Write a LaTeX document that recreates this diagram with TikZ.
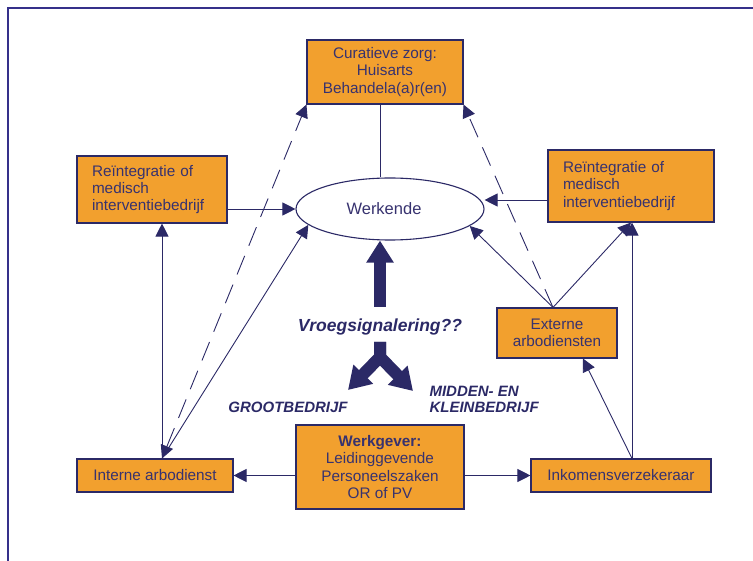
\documentclass[tikz,border=0pt]{standalone}
\usepackage{fontspec}
\setmainfont{Liberation Sans}
\usetikzlibrary{arrows.meta,shapes.geometric,calc}
\definecolor{nav}{HTML}{2B2966}
\definecolor{org}{HTML}{F2A02E}
\definecolor{frm}{HTML}{35308A}
\definecolor{txt}{HTML}{37326F}
\begin{document}
\begin{tikzpicture}[x=1pt,y=-1pt,
  box/.style={draw=nav,line width=1.1pt,fill=org,inner sep=0pt,text=txt,
    font=\fontsize{15.3}{17.3}\selectfont,align=center},
  ln/.style={draw=nav,line width=0.9pt},
  arr/.style={ln,-{Triangle[length=13pt,width=13pt]}},
  dsh/.style={ln,dash pattern=on 20pt off 11pt},
  fat/.style={draw=nav,line width=12pt,-{Triangle[length=22pt,width=26pt]}},
  lbl/.style={text=nav,font=\fontsize{15}{15.5}\selectfont\bfseries\itshape}]
\useasboundingbox (0,0) rectangle (753,561);
% frame
\draw[frm,line width=1.6pt] (8,561) -- (8,8) -- (753,8);
% boxes
\node[box,minimum width=156pt,minimum height=64pt] (cur) at (385,72)
  {Curatieve zorg:\\Huisarts\\Behandela(a)r(en)};
\node[box,minimum width=150pt,minimum height=67pt,text width=120pt,align=left] (rl) at (152,189.5)
  {Reïntegratie of\\medisch\\interventiebedrijf};
\node[box,minimum width=166pt,minimum height=72pt,text width=136pt,align=left] (rr) at (631,186)
  {Reïntegratie of\\medisch\\interventiebedrijf};
\node[draw=nav,line width=1.1pt,fill=white,ellipse,minimum width=188pt,minimum height=62pt,inner sep=0pt,
  text=txt,font=\fontsize{16.5}{18}\selectfont] (werk) at (390,209) {\hspace*{-12pt}Werkende};
\node[box,minimum width=120pt,minimum height=50pt] (ext) at (557,333)
  {Externe\\arbodiensten};
\node[box,minimum width=180pt,minimum height=33pt] (ink) at (621,475.5) {Inkomensverzekeraar};
\node[box,minimum width=156pt,minimum height=33pt] (int) at (155,475.5) {Interne arbodienst};
\node[box,minimum width=168pt,minimum height=84pt] (wg) at (380,467)
  {\textbf{Werkgever:}\\Leidinggevende\\Personeelszaken\\OR of PV};
% helper points
\coordinate (ct) at ([xshift=-5pt]cur.south);
\coordinate (ia) at ([xshift=7pt]int.north);
\coordinate (ea) at ([xshift=-4pt]ext.north);
\coordinate (ib) at ([xshift=11pt]ink.north);
\coordinate (rrl) at ([yshift=-14pt]rr.west);
\coordinate (fb) at (380,307);
% connectors
\draw[ln] (ct) -- (ct |- werk.north);
\draw[arr] (rl.east |- werk.west) -- (werk.west);
\draw[arr] (rrl) -- (rrl -| werk.east);
\draw[arr] (ia) -- (ia |- rl.south);
\draw[arr] (ia) -- (werk.191);
\draw[dsh,{Triangle[length=13pt,width=13pt]}-{Triangle[length=13pt,width=13pt]}] (ia) -- (cur.south west);
\draw[arr] (ea) -- (werk.348);
\draw[arr] (ea) -- (rr.south);
\draw[dsh,-{Triangle[length=13pt,width=13pt]}] (ea) -- (cur.south east);
\draw[arr] (ib) -- (ib |- rr.south);
\draw[arr] (ib) -- ([xshift=26pt]ext.south);
\draw[arr] (wg.west |- int.east) -- (int.east);
\draw[arr] (wg.east |- ink.west) -- (ink.west);
% fat arrows
\draw[fat] (fb) -- (fb |- werk.south);
\draw[fat,line join=miter] (380,342) -- (380,357) -- (348,390);
\draw[fat,line join=miter] (380,342) -- (380,357) -- (413,391);
% labels
\node[lbl,font=\fontsize{17.5}{18}\selectfont\bfseries\itshape] (vs) at (380,327) {Vroegsignalering??};
\node[lbl] (gb) at (288,407) {GROOTBEDRIJF};
\node[lbl,align=left,anchor=west] (mk) at (426,399.5) {MIDDEN- EN\\KLEINBEDRIJF};
\end{tikzpicture}
\end{document}
